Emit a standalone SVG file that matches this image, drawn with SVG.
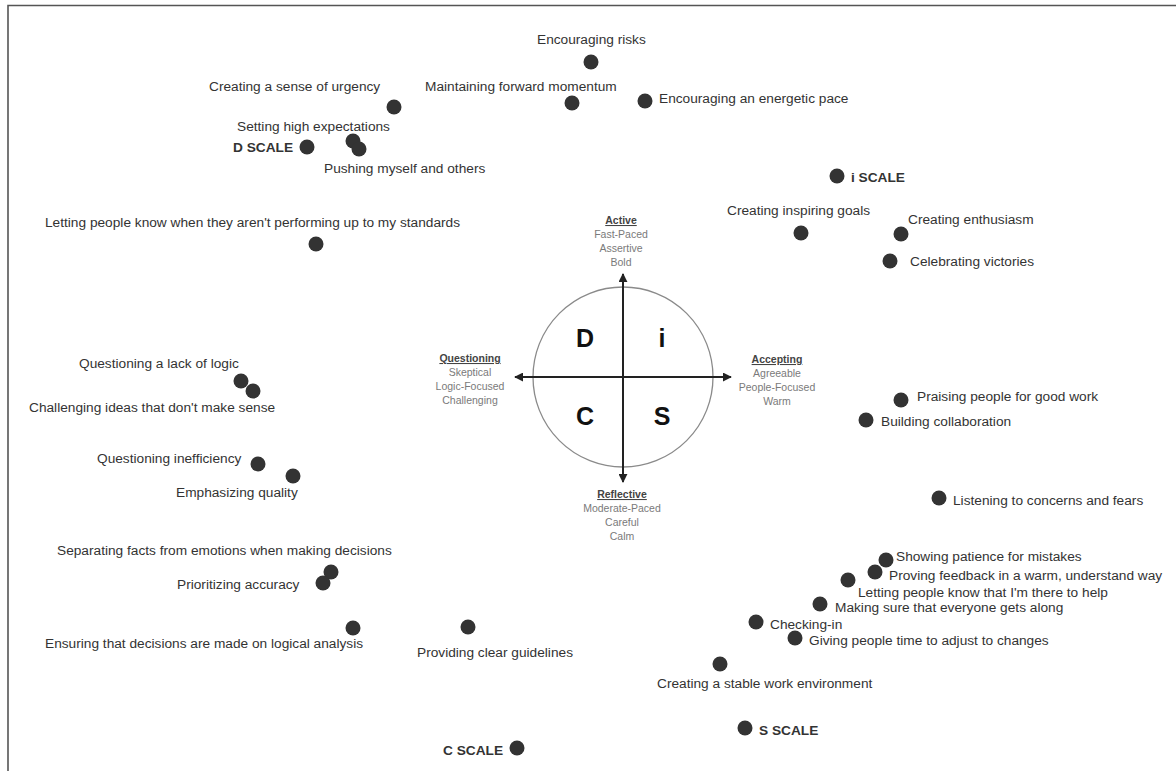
<svg xmlns="http://www.w3.org/2000/svg" width="1176" height="771" viewBox="0 0 1176 771">
<defs>
<style>
.lbl{font-family:"Liberation Sans",Arial,sans-serif;font-size:13.7px;fill:#333}
.scale{font-family:"Liberation Sans",Arial,sans-serif;font-size:13.7px;font-weight:bold;fill:#333}
.dot{fill:#333}
.ax{font-family:"Liberation Sans",Arial,sans-serif;font-size:10.5px;fill:#7a7a7a;text-anchor:middle}
.axt{font-family:"Liberation Sans",Arial,sans-serif;font-size:10.5px;font-weight:bold;fill:#444;text-anchor:middle;text-decoration:underline}
.big{font-family:"Liberation Sans",Arial,sans-serif;font-size:25px;font-weight:bold;fill:#111;text-anchor:middle}
.axis{stroke:#222;stroke-width:2;fill:none}
</style>
<marker id="arr" viewBox="0 0 10 10" refX="9" refY="5" markerWidth="9" markerHeight="9" markerUnits="userSpaceOnUse" orient="auto">
<path d="M0,0 L10,5 L0,10 z" fill="#222"/>
</marker>
</defs>
<rect width="1176" height="771" fill="#fff"/>
<path d="M8,790 L8,5.5 L1190,5.5" fill="none" stroke="#555" stroke-width="1.6"/>

<g id="disc-circle">
<circle cx="623" cy="377" r="90" fill="none" stroke="#8a8a8a" stroke-width="1.3"/>
<text class="big" x="585" y="347">D</text>
<text class="big" x="662" y="347">i</text>
<text class="big" x="585" y="425">C</text>
<text class="big" x="662" y="425">S</text>
</g>

<g id="connectors">
<line class="axis" x1="623" y1="377" x2="623" y2="274" marker-end="url(#arr)"/>
<line class="axis" x1="623" y1="377" x2="623" y2="482" marker-end="url(#arr)"/>
<line class="axis" x1="623" y1="377" x2="515" y2="377" marker-end="url(#arr)"/>
<line class="axis" x1="623" y1="377" x2="731" y2="377" marker-end="url(#arr)"/>
</g>

<g id="axis-active">
<text class="axt" x="621" y="224">Active</text>
<text class="ax" x="621" y="238">Fast-Paced</text>
<text class="ax" x="621" y="252">Assertive</text>
<text class="ax" x="621" y="266">Bold</text>
</g>
<g id="axis-questioning">
<text class="axt" x="470" y="362">Questioning</text>
<text class="ax" x="470" y="376">Skeptical</text>
<text class="ax" x="470" y="390">Logic-Focused</text>
<text class="ax" x="470" y="404">Challenging</text>
</g>
<g id="axis-accepting">
<text class="axt" x="777" y="363">Accepting</text>
<text class="ax" x="777" y="377">Agreeable</text>
<text class="ax" x="777" y="391">People-Focused</text>
<text class="ax" x="777" y="405">Warm</text>
</g>
<g id="axis-reflective">
<text class="axt" x="622" y="498">Reflective</text>
<text class="ax" x="622" y="512">Moderate-Paced</text>
<text class="ax" x="622" y="526">Careful</text>
<text class="ax" x="622" y="540">Calm</text>
</g>

<g id="encouraging-risks"><circle class="dot" cx="591" cy="62" r="7.5"/><text class="lbl" x="537" y="44">Encouraging risks</text></g>
<g id="maintaining-momentum"><circle class="dot" cx="572" cy="103" r="7.5"/><text class="lbl" x="425" y="91">Maintaining forward momentum</text></g>
<g id="energetic-pace"><circle class="dot" cx="645" cy="101" r="7.5"/><text class="lbl" x="659" y="103">Encouraging an energetic pace</text></g>
<g id="sense-of-urgency"><circle class="dot" cx="394" cy="107" r="7.5"/><text class="lbl" x="209" y="91">Creating a sense of urgency</text></g>
<g id="high-expectations"><circle class="dot" cx="353" cy="141" r="7.5"/><text class="lbl" x="237" y="131">Setting high expectations</text></g>
<g id="d-scale"><circle class="dot" cx="307" cy="147" r="7.5"/><text class="scale" x="233" y="152">D SCALE</text></g>
<g id="pushing"><circle class="dot" cx="359" cy="149" r="7.5"/><text class="lbl" x="324" y="173">Pushing myself and others</text></g>
<g id="letting-know-standards"><circle class="dot" cx="316" cy="244" r="7.5"/><text class="lbl" x="45" y="227">Letting people know when they aren't performing up to my standards</text></g>
<g id="i-scale"><circle class="dot" cx="837" cy="176" r="7.5"/><text class="scale" x="851" y="182">i SCALE</text></g>
<g id="inspiring-goals"><circle class="dot" cx="801" cy="233" r="7.5"/><text class="lbl" x="727" y="215">Creating inspiring goals</text></g>
<g id="enthusiasm"><circle class="dot" cx="901" cy="234" r="7.5"/><text class="lbl" x="908" y="224">Creating enthusiasm</text></g>
<g id="celebrating"><circle class="dot" cx="890" cy="261" r="7.5"/><text class="lbl" x="910" y="266">Celebrating victories</text></g>
<g id="lack-of-logic"><circle class="dot" cx="241" cy="381" r="7.5"/><text class="lbl" x="79" y="368">Questioning a lack of logic</text></g>
<g id="challenging-ideas"><circle class="dot" cx="253" cy="391" r="7.5"/><text class="lbl" x="29" y="412">Challenging ideas that don't make sense</text></g>
<g id="praising"><circle class="dot" cx="901" cy="400" r="7.5"/><text class="lbl" x="917" y="401">Praising people for good work</text></g>
<g id="building-collaboration"><circle class="dot" cx="866" cy="420" r="7.5"/><text class="lbl" x="881" y="426">Building collaboration</text></g>
<g id="inefficiency"><circle class="dot" cx="258" cy="464" r="7.5"/><text class="lbl" x="97" y="463">Questioning inefficiency</text></g>
<g id="emphasizing-quality"><circle class="dot" cx="293" cy="476" r="7.5"/><text class="lbl" x="176" y="497">Emphasizing quality</text></g>
<g id="listening"><circle class="dot" cx="939" cy="498" r="7.5"/><text class="lbl" x="953" y="505">Listening to concerns and fears</text></g>
<g id="separating-facts"><circle class="dot" cx="331" cy="572" r="7.5"/><text class="lbl" x="57" y="555">Separating facts from emotions when making decisions</text></g>
<g id="prioritizing-accuracy"><circle class="dot" cx="323" cy="583" r="7.5"/><text class="lbl" x="177" y="589">Prioritizing accuracy</text></g>
<g id="ensuring-logical"><circle class="dot" cx="353" cy="628" r="7.5"/><text class="lbl" x="45" y="648">Ensuring that decisions are made on logical analysis</text></g>
<g id="clear-guidelines"><circle class="dot" cx="468" cy="627" r="7.5"/><text class="lbl" x="417" y="657">Providing clear guidelines</text></g>
<g id="patience"><circle class="dot" cx="886" cy="560" r="7.5"/><text class="lbl" x="896" y="561">Showing patience for mistakes</text></g>
<g id="proving-feedback"><circle class="dot" cx="875" cy="572" r="7.5"/><text class="lbl" x="889" y="580">Proving feedback in a warm, understand way</text></g>
<g id="there-to-help"><circle class="dot" cx="848" cy="580" r="7.5"/><text class="lbl" x="858" y="597">Letting people know that I'm there to help</text></g>
<g id="everyone-along"><circle class="dot" cx="820" cy="604" r="7.5"/><text class="lbl" x="835" y="612">Making sure that everyone gets along</text></g>
<g id="checking-in"><circle class="dot" cx="756" cy="622" r="7.5"/><text class="lbl" x="770" y="629">Checking-in</text></g>
<g id="time-adjust"><circle class="dot" cx="795" cy="638" r="7.5"/><text class="lbl" x="809" y="645">Giving people time to adjust to changes</text></g>
<g id="stable-environment"><circle class="dot" cx="720" cy="664" r="7.5"/><text class="lbl" x="657" y="688">Creating a stable work environment</text></g>
<g id="s-scale"><circle class="dot" cx="745" cy="728" r="7.5"/><text class="scale" x="759" y="735">S SCALE</text></g>
<g id="c-scale"><circle class="dot" cx="517" cy="748" r="7.5"/><text class="scale" x="443" y="755">C SCALE</text></g>
</svg>
